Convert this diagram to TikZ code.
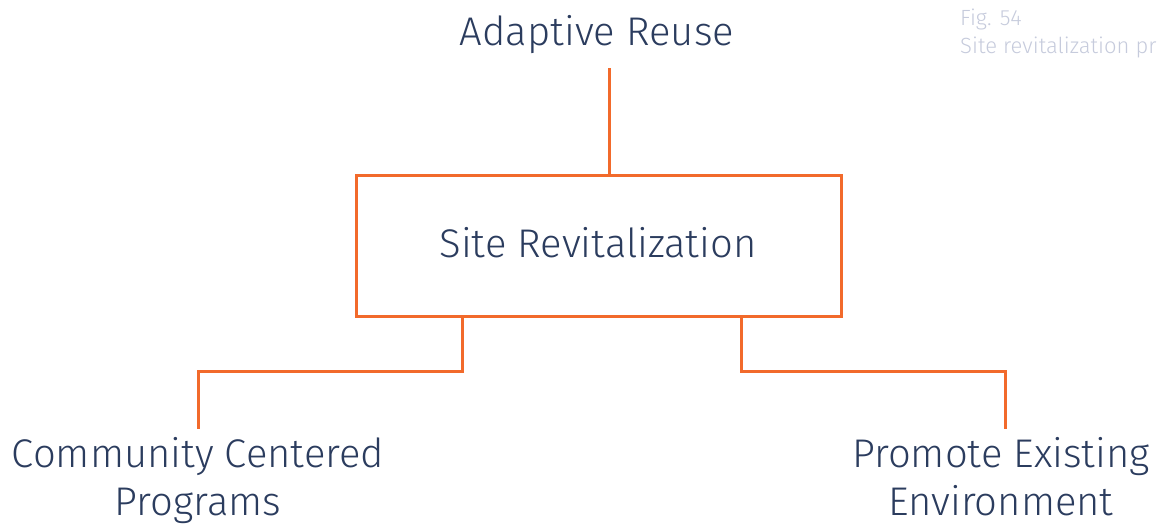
\documentclass[tikz,border=0pt]{standalone}
\usepackage{fontspec}
\setmainfont{Fira Sans}[UprightFont=* Light]
\definecolor{navy}{HTML}{2B3C5E}
\definecolor{orng}{HTML}{F26A2B}
\definecolor{capgray}{HTML}{C6CBDC}
\begin{document}
\begin{tikzpicture}[x=1pt,y=-1pt,
  lbl/.style={font=\fontsize{40}{48}\selectfont, text=navy, inner sep=0pt, align=center},
  conn/.style={draw=orng, line width=3pt},
  boxst/.style={draw=orng, line width=3pt, minimum width=485pt, minimum height=141pt, inner sep=0pt}]
\useasboundingbox (0,0) rectangle (1157,525);
\node[lbl, anchor=base] (ar) at (597,45) {Adaptive Reuse};
\node[boxst] (sr) at (599,246) {};
\node[lbl, anchor=base] (srt) at (598,257) {Site Revitalization};
\node[lbl, anchor=base] (cc) at (198,515) {Community Centered\\Programs};
\node[lbl, anchor=base] (pe) at (1001,515) {Promote Existing\\Environment};
\node[font=\fontsize{22}{28}\selectfont, text=capgray, anchor=base west, align=left, inner sep=0pt] (cap) at (960,53) {Fig. 54\\Site revitalization pr};
\coordinate (t1) at (609,68);
\coordinate (b1) at (462,0);
\coordinate (b2) at (741,0);
\coordinate (c1) at (198,429);
\coordinate (c2) at (1005,429);
\draw[conn] (t1) -- (t1 |- sr.north);
\draw[conn] (sr.south -| b1) -- ++(0,53) -| (c1);
\draw[conn] (sr.south -| b2) -- ++(0,53) -| (c2);
\end{tikzpicture}
\end{document}
